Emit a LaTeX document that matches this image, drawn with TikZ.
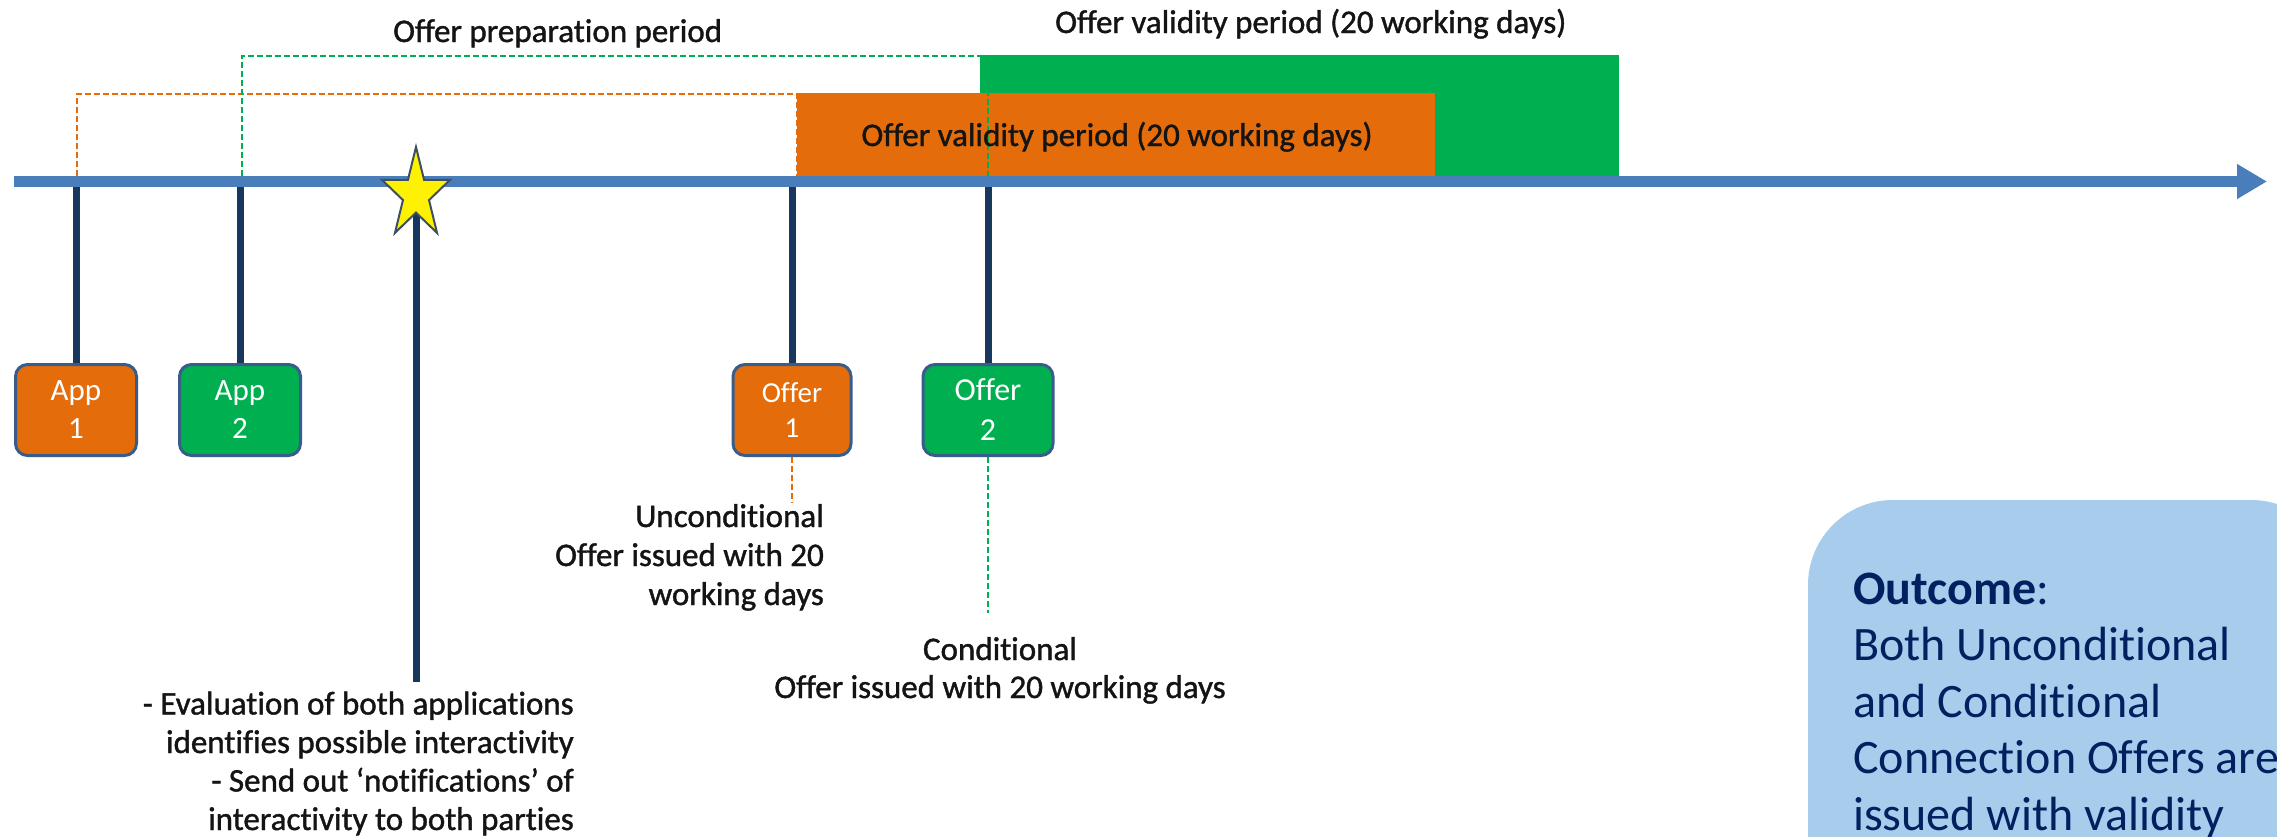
\documentclass[tikz,border=0pt]{standalone}
\usepackage{fontspec}
\setmainfont[RawFeature=-liga]{Carlito}
\newfontfamily\lblfont[FakeBold=1.2,RawFeature=-liga]{Carlito}
\usetikzlibrary{arrows.meta}
\definecolor{barblue}{HTML}{4A7EBB}
\definecolor{ticknavy}{HTML}{17375E}
\definecolor{orng}{HTML}{E46C0A}
\definecolor{grn}{HTML}{00B050}
\definecolor{boxline}{HTML}{385D8A}
\definecolor{starline}{HTML}{3F4F63}
\definecolor{outfill}{HTML}{A7CCEC}
\definecolor{outtext}{HTML}{002060}
\definecolor{txt}{HTML}{141414}
\begin{document}
\begin{tikzpicture}[x=1pt,y=-1pt,
  timeline/.style={line width=11pt, barblue, -{Triangle[length=30pt,width=33pt]}},
  tickline/.style={line width=7pt, ticknavy},
  odash/.style={line width=2pt, orng, dash pattern=on 6pt off 3pt},
  gdash/.style={line width=2pt, grn, dash pattern=on 6pt off 3pt},
  evbox/.style={draw=boxline, line width=3pt, rounded corners=12pt, minimum width=121pt,
    minimum height=91pt, inner sep=0pt, text=white, align=center,
    font=\fontsize{31}{38}\selectfont},
  lbl/.style={inner sep=0pt, text=txt, font=\lblfont\fontsize{33}{38.5}\selectfont},
  starstyle/.style={fill=yellow, draw=starline, line width=2pt, line join=miter}
]
\useasboundingbox (0,0) rectangle (2277,836);
\fill[white] (0,0) rectangle (2277,836);
\clip (0,0) rectangle (2277,836);

% validity periods
\fill[grn] (980,55) rectangle (1619,176);
\fill[orng] (797,93) rectangle (1435,176);

% preparation period brackets
\coordinate (o1) at (77,176);
\coordinate (o2) at (797,94);
\coordinate (o3) at (797,176);
\draw[odash] (o1) |- (o2) -- (o3);
\coordinate (g1) at (242,176);
\coordinate (g2) at (988,56);
\coordinate (g3) at (988,176);
\draw[gdash] (g1) |- (g2) -- (g3);

% event boxes
\node[evbox, fill=orng] (app1) at (76,410) {App\\1};
\node[evbox, fill=grn] (app2) at (240,410) {App\\2};
\node[evbox, fill=orng, minimum width=118pt, font=\fontsize{29}{35}\selectfont] (off1) at (792,410) {Offer\\1};
\node[evbox, fill=grn, minimum width=130pt, font=\fontsize{32}{40}\selectfont] (off2) at (988,410) {Offer\\2};

% timeline
\coordinate (tA) at (14,181.5);
\coordinate (tB) at (2267,181.5);

% ticks
\draw[tickline] (app1.north |- tA) -- (app1.north);
\draw[tickline] (app2.north |- tA) -- (app2.north);
\draw[tickline] (off1.north |- tA) -- (off1.north);
\draw[tickline] (off2.north |- tA) -- (off2.north);
\coordinate (starc) at (416,194.5);
\coordinate (starend) at (416,682);
\draw[tickline] (starc) -- (starend);

\draw[timeline] (tA) -- (tB);

% star
\begin{scope}[shift={(starc)}]
\draw[starstyle] (90:35.8pt and 47.5pt) -- (126:13.7pt and 18.1pt)
  -- (162:35.8pt and 47.5pt) -- (198:13.7pt and 18.1pt)
  -- (234:35.8pt and 47.5pt) -- (270:13.7pt and 18.1pt)
  -- (306:35.8pt and 47.5pt) -- (342:13.7pt and 18.1pt)
  -- (18:35.8pt and 47.5pt) -- (54:13.7pt and 18.1pt) -- cycle;
\end{scope}

% offer dashed leaders
\coordinate (uncend) at (792,503);
\coordinate (condend) at (988,613);
\draw[odash] (off1.south) -- (uncend);
\draw[gdash] (off2.south) -- (condend);

% labels (multi-line nodes: base = baseline of last line)
\node[lbl, anchor=base west] (prep) at (393,42) {Offer preparation period};
\node[lbl, anchor=base west] (gval) at (1055,33) {Offer validity period (20 working days)};
\node[lbl, anchor=base] (oval) at (1117,146) {Offer validity period (20 working days)};
\node[lbl, anchor=base east, align=right, font=\lblfont\fontsize{33}{39}\selectfont] (unc) at (824,605)
  {Unconditional\\Offer issued with 20\\working days};
\node[lbl, anchor=base, align=center, font=\lblfont\fontsize{33}{38}\selectfont] (cond) at (1000,698)
  {Conditional\\Offer issued with 20 working days};
\node[lbl, anchor=base east, align=right] (eval) at (574,830)
  {- Evaluation of both applications\\identifies possible interactivity\\- Send out ‘notifications’ of\\interactivity to both parties};

% outcome
\fill[outfill, rounded corners=85pt] (1808,500) rectangle (2336,1000);
\node[anchor=base west, align=left, inner sep=0pt, text=outtext, font=\fontsize{48}{56.5}\selectfont] (outc) at (1853,830)
  {\textbf{Outcome}:\\Both Unconditional\\and Conditional\\Connection Offers are\\issued with validity};
\end{tikzpicture}
\end{document}
